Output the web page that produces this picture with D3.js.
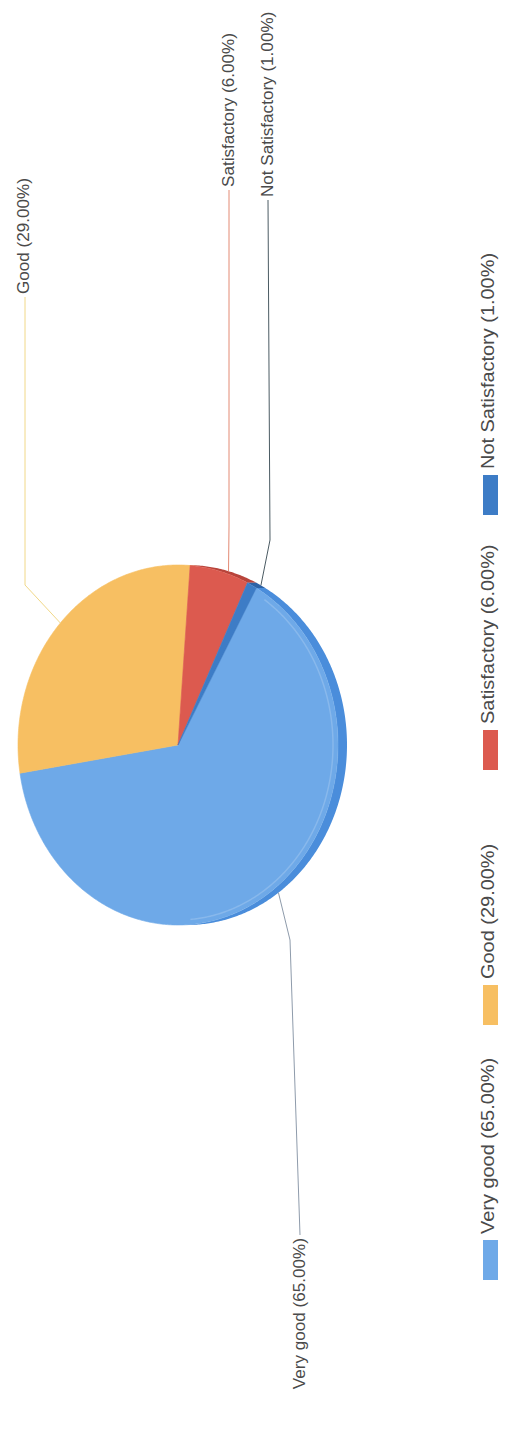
<!DOCTYPE html>
<html><head><meta charset="utf-8">
<script src="https://cdn.jsdelivr.net/npm/d3@7"></script>
<style>html,body{margin:0;padding:0;background:#fff;overflow:hidden}</style>
</head><body>
<svg id="chart" width="505" height="1432"></svg>
<script>
// ---- data ----
const categories = ["Very good", "Good", "Satisfactory", "Not Satisfactory"];
const values = [65, 29, 6, 1];
const valueLabels = ["65.00%", "29.00%", "6.00%", "1.00%"];

// ---- frame (chart drawn unrotated, then turned -90deg) ----
const W = 1432, H = 505;
const svg = d3.select("#chart");
svg.append("rect").attr("width", 505).attr("height", 1432).attr("fill", "#fff");
const root = svg.append("g").attr("transform", `translate(0,${W}) rotate(-90)`);

const palette = d3.scaleOrdinal().domain(categories).range(["#6ea9e8", "#f7bf62", "#dc5a4f", "#3d7cc6"]);
const rimPalette = d3.scaleOrdinal().domain(categories).range(["#4a8ddb", "#dfa443", "#b8443b", "#2d62a6"]);
const linePalette = d3.scaleOrdinal().domain(categories).range(["#8e9bab", "#f1d888", "#e38a74", "#4b5b63"]);

const cx = 687, cy = 178, rx = 180, ry = 160, depth = 9;
const startDeg = 119.3;
const pie = d3.pie().sort(null).value(d => d.value)
  .startAngle(startDeg * Math.PI / 180).endAngle(startDeg * Math.PI / 180 + 2 * Math.PI);
const data = categories.map((c, i) => ({ name: c, value: values[i], label: valueLabels[i] }));
const arcs = pie(data);

const ex = (a, k = 0) => cx + (rx - k) * Math.sin(a);
const ey = (a, k = 0) => cy - (ry - k) * Math.cos(a);
const line = d3.line();
const sample = (a0, a1) => {
  const n = Math.max(2, Math.ceil(Math.abs(a1 - a0) / 0.01));
  return d3.range(n + 1).map(i => a0 + (a1 - a0) * i / n);
};
const frontRange = (a, k) => [Math.max(a.startAngle, Math.PI / 2 + k * 2 * Math.PI),
                              Math.min(a.endAngle, 3 * Math.PI / 2 + k * 2 * Math.PI)];

// rims (front-facing part)
const rimG = root.append("g");
arcs.forEach(a => {
  [0, 1].forEach(k => {
    const [lo, hi] = frontRange(a, k);
    if (hi > lo) {
      const s = sample(lo, hi);
      const pts = s.map(t => [ex(t), ey(t)]).concat(s.slice().reverse().map(t => [ex(t), ey(t) + depth]));
      rimG.append("path").attr("d", line(pts) + "Z").attr("fill", rimPalette(a.data.name));
    }
  });
});

// top faces
const topG = root.append("g");
arcs.forEach(a => {
  const pts = [[cx, cy]].concat(sample(a.startAngle, a.endAngle).map(t => [ex(t), ey(t)]));
  topG.append("path").attr("d", line(pts) + "Z")
    .attr("fill", palette(a.data.name))
    .attr("stroke", palette(a.data.name)).attr("stroke-width", 0.6);
});
// soft bevel highlight along the front edge of the large slice
arcs.filter(a => a.data.name === "Very good").forEach(a => {
  [0, 1].forEach(k => {
    const [lo, hi] = frontRange(a, k);
    if (hi - lo > 0.3) {
      const s = sample(lo + 0.08, hi - 0.08);
      topG.append("path").attr("d", line(s.map(t => [ex(t, 5), ey(t, 5)])))
        .attr("fill", "none").attr("stroke", "#ffffff").attr("stroke-opacity", 0.18).attr("stroke-width", 1.5);
    }
  });
});

// ---- slice labels with leader lines ----
const labelLayout = {
  "Good": { u: 1138, v: 29, anchor: "start", lineV: 25, knee: [847, 25] },
  "Satisfactory": { u: 1245, v: 234, anchor: "start", lineV: 229, knee: [905, 229] },
  "Not Satisfactory": { u: 1235, v: 273, anchor: "start", lineV: 268, knee: [892, 270] },
  "Very good": { u: 194, v: 305, anchor: "end", lineV: 300, knee: [492, 290] }
};
const fontFam = "'Liberation Sans', Arial, sans-serif";
const labG = root.append("g");
arcs.forEach(a => {
  const L = labelLayout[a.data.name];
  const mid = (a.startAngle + a.endAngle) / 2;
  const front = Math.cos(mid) < 0;
  const edge = [ex(mid), ey(mid) + (front ? depth : 0)];
  const end = [L.anchor === "start" ? L.u - 3 : L.u + 3, L.lineV];
  labG.append("path").attr("d", line([edge, L.knee, end]))
    .attr("fill", "none").attr("stroke", linePalette(a.data.name)).attr("stroke-width", 1);
  labG.append("text")
    .attr("transform", `translate(${L.u},${L.v}) scale(1.07,1)`)
    .attr("text-anchor", L.anchor)
    .attr("font-family", fontFam).attr("font-size", 16).attr("fill", "#4a4a4a")
    .text(`${a.data.name} (${a.data.label})`);
});

// ---- legend ----
const legendX = d3.scalePoint().domain(categories).range([152, 917]);
const legG = root.append("g");
data.forEach(d => {
  const p = legendX(d.name);
  legG.append("rect").attr("x", p).attr("y", 483).attr("width", 40).attr("height", 15)
    .attr("fill", palette(d.name));
  legG.append("text")
    .attr("transform", `translate(${p + 46},494) scale(1.05,1)`)
    .attr("font-family", fontFam).attr("font-size", 19).attr("fill", "#4a4a4a")
    .text(`${d.name} (${d.label})`);
});
</script>
</body></html>
